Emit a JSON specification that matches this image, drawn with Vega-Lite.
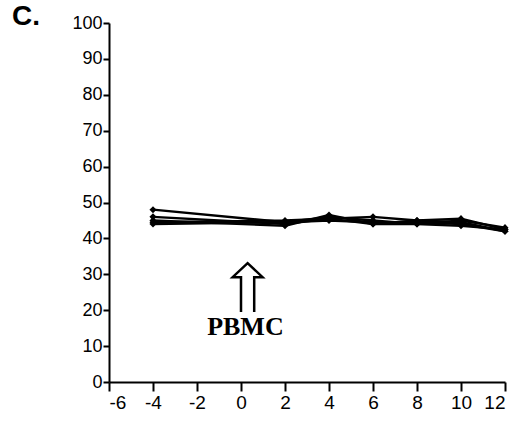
{
  "$schema": "https://vega.github.io/schema/vega-lite/v6.json",
  "autosize": "none",
  "width": 396,
  "height": 359,
  "padding": {"left": 109, "top": 23, "right": 21, "bottom": 43},
  "background": "white",
  "title": {
    "text": "C.",
    "anchor": "start",
    "frame": "group",
    "orient": "top",
    "dx": -97,
    "dy": 39,
    "offset": 0,
    "baseline": "alphabetic",
    "font": "Liberation Sans",
    "fontSize": 28,
    "fontWeight": "bold",
    "color": "black"
  },
  "config": {
    "view": {"stroke": null},
    "axis": {
      "domainColor": "black",
      "domainWidth": 2,
      "tickColor": "black",
      "tickWidth": 2,
      "labelColor": "black",
      "labelFont": "Liberation Sans",
      "labelFontSize": 18,
      "labelOverlap": false,
      "labelExpr": "'' + datum.value",
      "grid": false,
      "title": null
    }
  },
  "datasets": {
    "series": [
      {"s": "A", "day": -4, "v": 48}, {"s": "A", "day": 2, "v": 44.5}, {"s": "A", "day": 4, "v": 46}, {"s": "A", "day": 6, "v": 45}, {"s": "A", "day": 8, "v": 44}, {"s": "A", "day": 10, "v": 43.5}, {"s": "A", "day": 12, "v": 42.5},
      {"s": "B", "day": -4, "v": 46}, {"s": "B", "day": 2, "v": 44}, {"s": "B", "day": 4, "v": 45.5}, {"s": "B", "day": 6, "v": 46}, {"s": "B", "day": 8, "v": 45}, {"s": "B", "day": 10, "v": 44.5}, {"s": "B", "day": 12, "v": 42},
      {"s": "C", "day": -4, "v": 45}, {"s": "C", "day": 2, "v": 43.5}, {"s": "C", "day": 4, "v": 46.5}, {"s": "C", "day": 6, "v": 44}, {"s": "C", "day": 8, "v": 45}, {"s": "C", "day": 10, "v": 45.5}, {"s": "C", "day": 12, "v": 42.5},
      {"s": "D", "day": -4, "v": 44}, {"s": "D", "day": 2, "v": 44.5}, {"s": "D", "day": 4, "v": 45}, {"s": "D", "day": 6, "v": 44.5}, {"s": "D", "day": 8, "v": 44.5}, {"s": "D", "day": 10, "v": 44}, {"s": "D", "day": 12, "v": 42},
      {"s": "E", "day": -4, "v": 44.5}, {"s": "E", "day": 2, "v": 45}, {"s": "E", "day": 4, "v": 45.5}, {"s": "E", "day": 6, "v": 44}, {"s": "E", "day": 8, "v": 44}, {"s": "E", "day": 10, "v": 45}, {"s": "E", "day": 12, "v": 43}
    ],
    "arrow": [
      {"o": 1, "ax": 0.0, "ay": 19.5},
      {"o": 2, "ax": 0.0, "ay": 29.2},
      {"o": 3, "ax": -0.38, "ay": 29.2},
      {"o": 4, "ax": 0.3, "ay": 33.1},
      {"o": 5, "ax": 0.98, "ay": 29.2},
      {"o": 6, "ax": 0.6, "ay": 29.2},
      {"o": 7, "ax": 0.6, "ay": 19.5}
    ],
    "label": [{"lx": 0.2, "ly": 15.3, "t": "PBMC"}]
  },
  "layer": [
    {
      "data": {"name": "series"},
      "mark": {"type": "line", "color": "black", "strokeWidth": 2.4},
      "encoding": {
        "x": {"field": "day", "type": "quantitative", "scale": {"domain": [-6, 12], "nice": false}, "axis": {"values": [-6, -4, -2, 0, 2, 4, 6, 8, 10, 12], "tickSize": 9, "labelPadding": 2, "labelFontSize": 19}},
        "y": {"field": "v", "type": "quantitative", "scale": {"domain": [0, 100], "nice": false}, "axis": {"values": [0, 10, 20, 30, 40, 50, 60, 70, 80, 90, 100], "tickSize": 6, "labelPadding": 1}},
        "detail": {"field": "s"}
      }
    },
    {
      "data": {"name": "series"},
      "mark": {"type": "point", "shape": "diamond", "filled": true, "color": "black", "size": 50, "opacity": 1},
      "encoding": {
        "x": {"field": "day", "type": "quantitative", "axis": {"values": [-6, -4, -2, 0, 2, 4, 6, 8, 10, 12], "tickSize": 9, "labelPadding": 2, "labelFontSize": 19}},
        "y": {"field": "v", "type": "quantitative", "axis": {"values": [0, 10, 20, 30, 40, 50, 60, 70, 80, 90, 100], "tickSize": 6, "labelPadding": 1}}
      }
    },
    {
      "data": {"name": "arrow"},
      "mark": {"type": "line", "color": "black", "strokeWidth": 2.5},
      "encoding": {
        "x": {"field": "ax", "type": "quantitative", "axis": {"values": [-6, -4, -2, 0, 2, 4, 6, 8, 10, 12], "tickSize": 9, "labelPadding": 2, "labelFontSize": 19}},
        "y": {"field": "ay", "type": "quantitative", "axis": {"values": [0, 10, 20, 30, 40, 50, 60, 70, 80, 90, 100], "tickSize": 6, "labelPadding": 1}},
        "order": {"field": "o"}
      }
    },
    {
      "data": {"name": "label"},
      "mark": {"type": "text", "font": "Liberation Serif", "fontWeight": "bold", "fontSize": 26, "color": "black", "baseline": "middle", "align": "center"},
      "encoding": {
        "x": {"field": "lx", "type": "quantitative", "axis": {"values": [-6, -4, -2, 0, 2, 4, 6, 8, 10, 12], "tickSize": 9, "labelPadding": 2, "labelFontSize": 19}},
        "y": {"field": "ly", "type": "quantitative", "axis": {"values": [0, 10, 20, 30, 40, 50, 60, 70, 80, 90, 100], "tickSize": 6, "labelPadding": 1}},
        "text": {"field": "t"}
      }
    }
  ]
}
